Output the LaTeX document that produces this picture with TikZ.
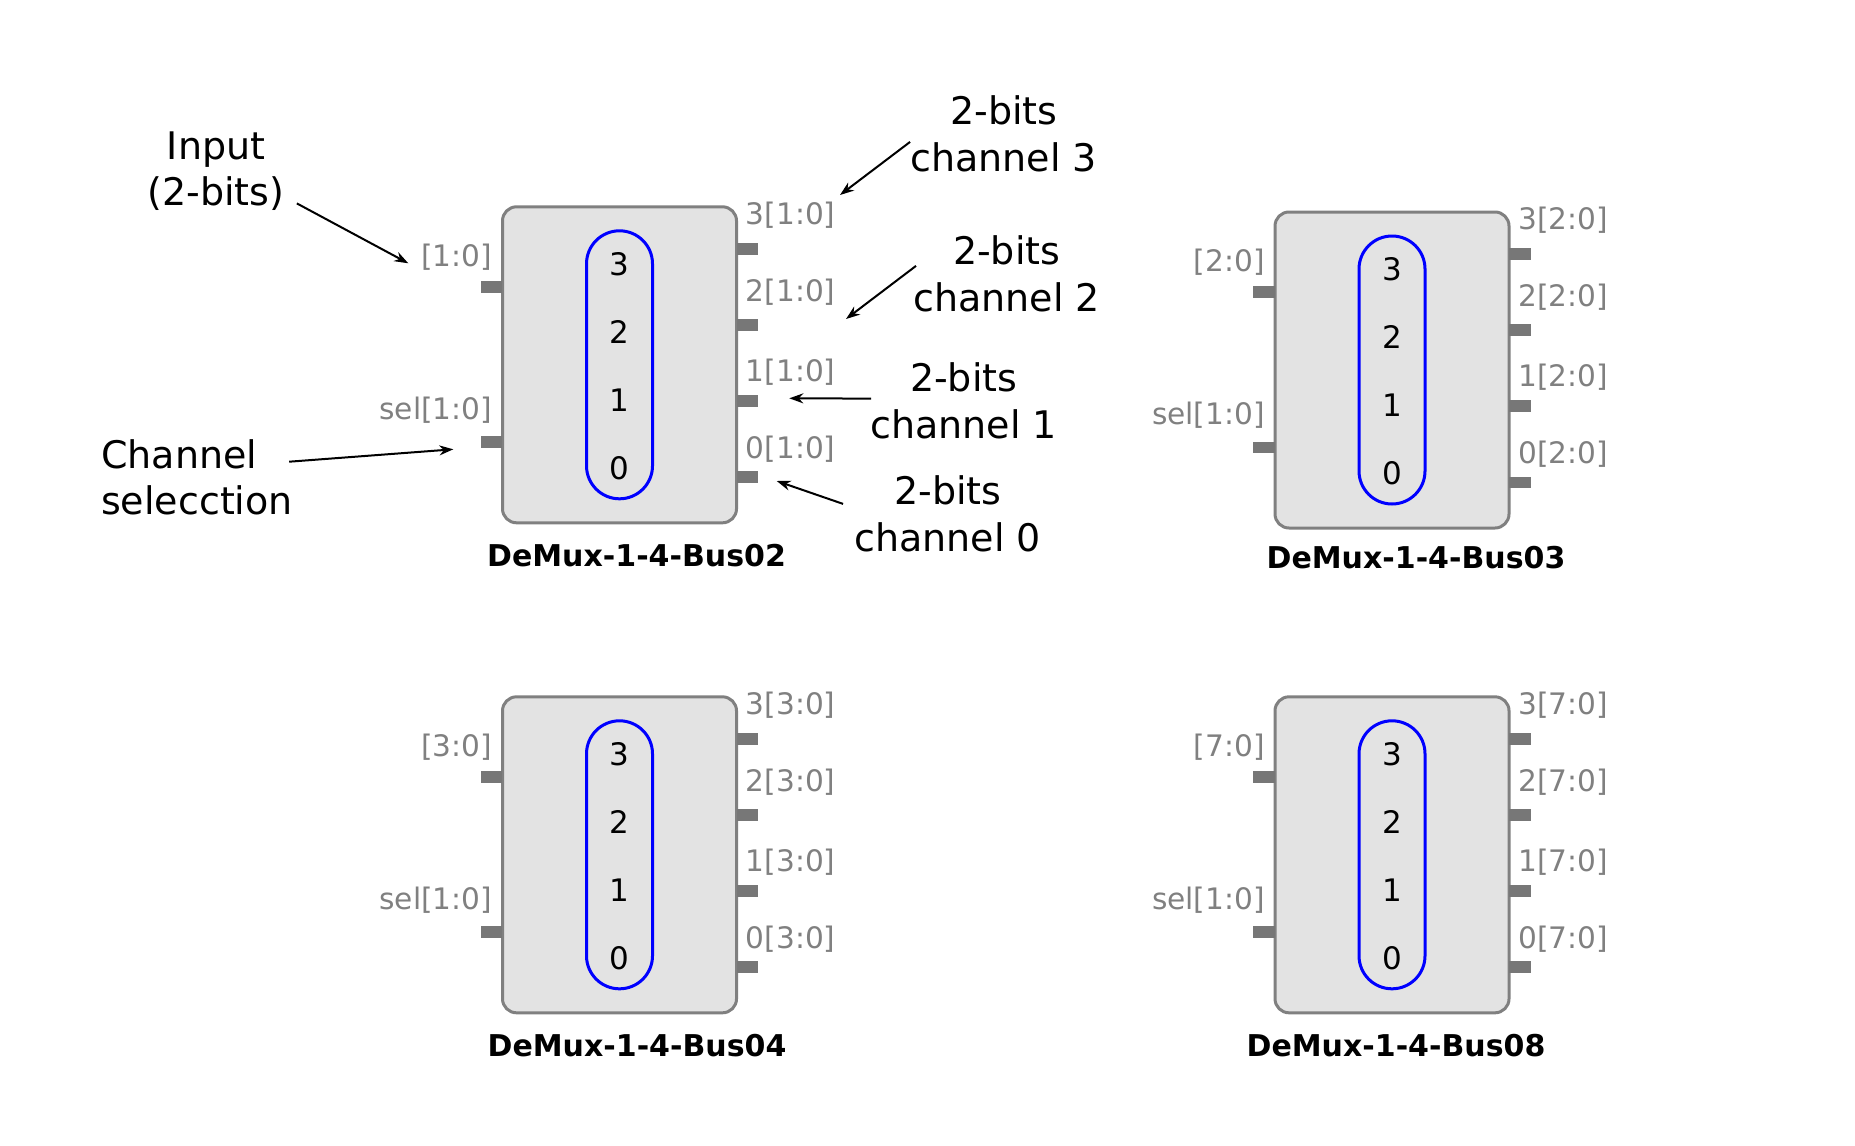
\documentclass[tikz,border=0pt]{standalone}
\usepackage{fontspec}
\setmainfont{DejaVu Sans}
\usetikzlibrary{arrows.meta,calc,positioning}
\definecolor{boxfill}{HTML}{E3E3E3}
\definecolor{boxline}{HTML}{808080}
\definecolor{pincol}{HTML}{777777}
\definecolor{portgray}{HTML}{808080}
\tikzset{>={Stealth[length=7pt,width=5pt]},
  demux/.style={draw=boxline, fill=boxfill, line width=1.5pt,
    rounded corners=7pt, minimum width=117pt, minimum height=158pt,
    inner sep=0pt},
  pill/.style={draw=blue, line width=1.5pt, rounded corners=16.5pt,
    minimum width=33pt, minimum height=134pt, inner sep=0pt},
  digit/.style={inner sep=0pt, font=\fontsize{15.5}{18}\selectfont},
  pinbox/.style={fill=pincol, minimum width=10.7pt,
    minimum height=5.85pt, inner sep=0pt},
  portlabel/.style={inner sep=0pt, text=portgray,
    font=\fontsize{14.8}{17}\selectfont},
  boxtitle/.style={inner sep=0pt, font=\fontsize{15}{18}\selectfont\bfseries},
  note/.style={inner sep=0pt, font=\fontsize{19}{23.35}\selectfont},
  note arrow/.style={->, line width=1pt}}

\begin{document}
\begin{tikzpicture}[x=0.5pt, y=-0.5pt]
  \useasboundingbox (0,0) rectangle (1855,1145);

  % the four demux blocks
  \foreach \nm/\cx/\cy/\rng/\tdx/\tdy in
    {Bus02/619.5/364.8/1:0/17/202, Bus03/1392/370/2:0/24/198,
     Bus04/619.5/854.8/3:0/17.5/202, Bus08/1392/854.8/7:0/4/202}
  {
    \node [demux] (\nm) at (\cx,\cy) {};
    \node [pill] (\nm-pill) at (\nm.center) {};
    \foreach \d/\dy in {3/-101, 2/-33, 1/35, 0/103}
      \node [digit] (\nm-d\d) at ($(\nm.center)+(0,\dy)$) {\d};
    % inputs
    \node [pinbox, anchor=east] (\nm-in) at ($(\nm.center)+(-117,-78.1)$) {};
    \node [pinbox, anchor=east] (\nm-sel) at ($(\nm.center)+(-117,77.5)$) {};
    \node [portlabel, anchor=base east] (\nm-inlbl)
      at ($(\nm.center)+(-127,-98.8)$) {[\rng]};
    \node [portlabel, anchor=base east] (\nm-sellbl)
      at ($(\nm.center)+(-127,54.5)$) {sel[1:0]};
    % outputs
    \foreach \k/\py/\ly in {3/-115.8/-140.8, 2/-39.8/-63.1,
                            1/35.9/16.2, 0/112.5/93.5}
    {
      \node [pinbox, anchor=west] (\nm-out\k) at ($(\nm.center)+(117,\py)$) {};
      \node [portlabel, anchor=base west] (\nm-outlbl\k)
        at ($(\nm.center)+(126,\ly)$) {\k[\rng]};
    }
    \node [boxtitle, anchor=base] (\nm-title)
      at ($(\nm.center)+(\tdx,\tdy)$) {DeMux-1-4-\nm};
  }

  % notes
  \node [note, align=center] (inp) at (216,171.3) {Input\\(2-bits)};
  \node [note, align=left, anchor=west] (csel) at (100.7,477.2)
    {Channel\\selecction};
  \node [note, align=center] (ch3) at (1003.8,133.9) {2-bits\\channel 3};
  \node [note, align=center] (ch2) at (1006.7,273.9) {2-bits\\channel 2};
  \node [note, align=center] (ch1) at (963.7,400.6) {2-bits\\channel 1};
  \node [note, align=center] (ch0) at (947.8,513.9) {2-bits\\channel 0};

  \coordinate (inp-tip) at (408.3,263.3);
  \coordinate (csel-tip) at (453.3,449.3);
  \coordinate (ch3-tip) at (840,195);
  \coordinate (ch2-tip) at (846,319);
  \coordinate (ch1-tip) at (789.3,398.3);
  \coordinate (ch0-tip) at (776.7,481);

  \draw [note arrow] ([shift={(12,-8)}]inp.south east) -- (inp-tip);
  \draw [note arrow] ([shift={(-4,-15.5)}]csel.east) -- (csel-tip);
  \draw [note arrow] ([shift={(0,8)}]ch3.west) -- (ch3-tip);
  \draw [note arrow] ([shift={(3,-8)}]ch2.west) -- (ch2-tip);
  \draw [note arrow] ([shift={(1,-2)}]ch1.west) -- (ch1-tip);
  \draw [note arrow] ([shift={(-11,-10)}]ch0.west) -- (ch0-tip);
\end{tikzpicture}
\end{document}
